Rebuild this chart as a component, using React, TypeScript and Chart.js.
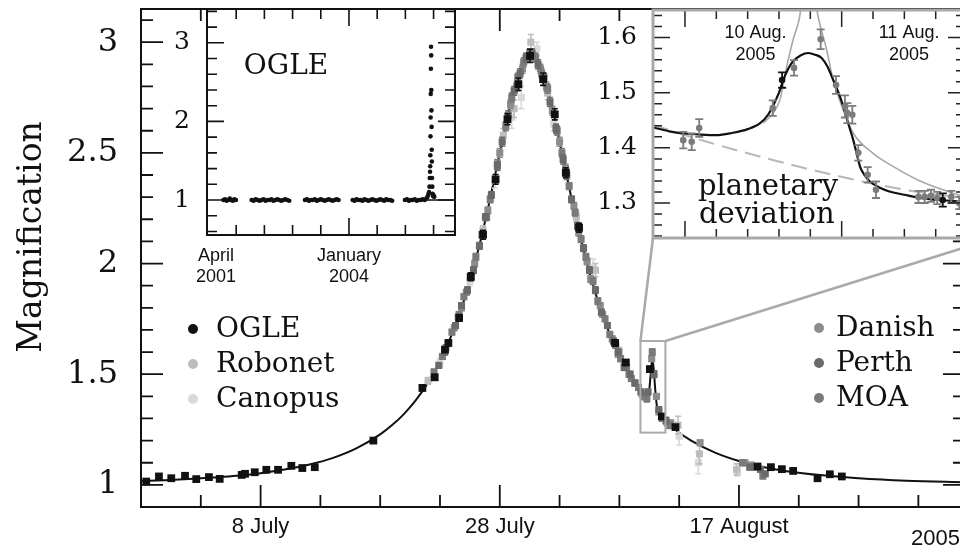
import React, { useEffect, useRef } from "react";
import { Chart, registerables } from "chart.js";
Chart.register(...registerables);

const SERIF = "'DejaVu Serif', serif";
const SANS = "'Liberation Sans', Arial, sans-serif";
const INK = "#111";

// ---------------- main panel: axes ----------------
const mainXTickValues = [8, 28, 48];
const mainXTickLabels = ["8 July", "28 July", "17 August"];
const mainYTickValues = [1, 1.5, 2, 2.5, 3];
const mainYTickLabels = ["1", "1.5", "2", "2.5", "3"];

// model light curve (days since 0 July 2005, magnification)
const modelT = [-2, 0, 2, 4, 6, 8, 10, 12, 14, 16, 18, 19, 20, 21, 22, 23, 24, 25, 26, 27, 28, 29, 30, 30.6, 31, 32, 33, 34, 35, 36, 37, 38, 39, 39.5, 40, 40.3, 40.5, 40.62, 40.74, 40.86, 41.0, 41.15, 41.4, 41.8, 42.7, 44, 46, 48, 50, 52, 55, 58, 62, 66.9];
const modelA = [1.017, 1.021, 1.026, 1.033, 1.041, 1.053, 1.069, 1.091, 1.121, 1.165, 1.228, 1.270, 1.321, 1.384, 1.462, 1.559, 1.681, 1.832, 2.019, 2.245, 2.499, 2.747, 2.917, 2.948, 2.934, 2.790, 2.551, 2.294, 2.061, 1.866, 1.708, 1.581, 1.480, 1.437, 1.398, 1.385, 1.43, 1.50, 1.565, 1.53, 1.43, 1.35, 1.315, 1.289, 1.248, 1.200, 1.146, 1.108, 1.081, 1.062, 1.043, 1.030, 1.019, 1.012];

// OGLE
const ogleT = [-1.56, -0.5, 0.53, 1.68, 2.62, 3.68, 4.58, 6.42, 6.7, 7.51, 8.48, 9.46, 10.57, 11.49, 12.53, 17.43, 21.53, 22.56, 23.42, 23.7, 24.6, 25.57, 26.6, 27.65, 28.64, 29.56, 30.53, 31.62, 32.6, 33.52, 34.63, 37.64, 38.54, 40.55, 41.55, 42.69, 49.55, 50.67, 51.59, 52.53, 54.57, 55.6, 56.6];
const ogleA = [1.015, 1.038, 1.030, 1.041, 1.026, 1.035, 1.027, 1.045, 1.050, 1.057, 1.068, 1.068, 1.086, 1.076, 1.080, 1.200, 1.438, 1.486, 1.611, 1.641, 1.754, 1.940, 2.130, 2.380, 2.652, 2.810, 2.938, 2.833, 2.674, 2.410, 2.162, 1.641, 1.553, 1.523, 1.309, 1.261, 1.083, 1.080, 1.071, 1.063, 1.030, 1.048, 1.038];
const ogleErr = [0.008, 0.008, 0.008, 0.008, 0.008, 0.008, 0.008, 0.008, 0.008, 0.008, 0.008, 0.008, 0.008, 0.008, 0.008, 0.01, 0.012, 0.012, 0.012, 0.012, 0.015, 0.018, 0.02, 0.022, 0.025, 0.028, 0.03, 0.028, 0.025, 0.022, 0.02, 0.014, 0.012, 0.012, 0.01, 0.01, 0.008, 0.008, 0.008, 0.008, 0.008, 0.008, 0.008];

// Perth
const perthT = [22.9, 23.4, 24.3, 24.8, 25.3, 25.8, 26.3, 26.8, 27.3, 27.8, 28.2, 28.7, 29.2, 29.7, 30.2, 30.7, 31.2, 31.7, 32.2, 32.7, 33.3, 33.6, 34.0, 34.5, 35.0, 35.5, 36.0, 36.5, 37.0, 37.5, 37.9, 38.4, 38.9, 39.3, 39.8, 40.4, 40.9, 41.3, 41.9, 48.9, 49.8, 50.2];
const perthA = [1.54, 1.60, 1.72, 1.81, 1.88, 1.97, 2.08, 2.21, 2.31, 2.44, 2.55, 2.67, 2.78, 2.86, 2.93, 2.95, 2.90, 2.84, 2.73, 2.61, 2.47, 2.40, 2.29, 2.17, 2.07, 1.97, 1.88, 1.78, 1.72, 1.65, 1.60, 1.53, 1.50, 1.46, 1.42, 1.42, 1.50, 1.34, 1.29, 1.08, 1.07, 1.05];
const perthErr = [0.012, 0.012, 0.012, 0.012, 0.015, 0.015, 0.015, 0.015, 0.015, 0.02, 0.02, 0.02, 0.02, 0.02, 0.02, 0.02, 0.02, 0.02, 0.02, 0.02, 0.02, 0.02, 0.015, 0.015, 0.015, 0.015, 0.015, 0.012, 0.012, 0.012, 0.012, 0.012, 0.012, 0.012, 0.012, 0.012, 0.015, 0.012, 0.015, 0.012, 0.01, 0.01];

// MOA
const moaT = [22.5, 23.2, 24.0, 24.6, 25.0, 25.6, 26.0, 26.9, 27.2, 27.8, 28.5, 29.0, 29.5, 30.0, 30.5, 31.0, 31.5, 32.0, 32.8, 33.2, 33.8, 34.3, 34.8, 35.2, 35.8, 36.2, 36.8, 37.2, 37.7, 38.1, 38.6, 39.0, 39.6, 40.1, 40.3, 40.75, 41.6, 42.2, 48.3, 49.3, 50.0];
const moaA = [1.51, 1.58, 1.69, 1.77, 1.85, 1.94, 2.03, 2.21, 2.29, 2.45, 2.62, 2.75, 2.84, 2.91, 2.95, 2.93, 2.86, 2.79, 2.60, 2.50, 2.35, 2.23, 2.11, 2.03, 1.92, 1.83, 1.75, 1.68, 1.63, 1.57, 1.53, 1.48, 1.44, 1.40, 1.39, 1.60, 1.30, 1.27, 1.10, 1.08, 1.04];
const moaErr = [0.012, 0.012, 0.012, 0.012, 0.012, 0.015, 0.015, 0.015, 0.015, 0.02, 0.02, 0.02, 0.02, 0.02, 0.02, 0.02, 0.02, 0.02, 0.02, 0.02, 0.015, 0.015, 0.015, 0.015, 0.015, 0.015, 0.012, 0.012, 0.012, 0.012, 0.012, 0.012, 0.012, 0.015, 0.015, 0.015, 0.012, 0.015, 0.012, 0.01, 0.012];

// Danish
const danishT = [23.5, 24.2, 24.8, 25.2, 25.9, 26.5, 27.0, 28.0, 28.9, 29.4, 29.9, 30.3, 30.9, 31.4, 31.9, 32.4, 33.0, 33.5, 34.2, 34.6, 35.3, 35.6, 36.4, 36.6, 37.4, 37.9, 38.4, 38.8, 39.3, 39.9, 40.7, 41.1, 41.3, 42.0, 42.3, 44.75, 48.5, 49.0];
const danishA = [1.62, 1.71, 1.80, 1.87, 2.00, 2.13, 2.24, 2.50, 2.72, 2.80, 2.88, 2.93, 2.93, 2.88, 2.80, 2.69, 2.55, 2.43, 2.26, 2.14, 2.01, 1.93, 1.81, 1.77, 1.66, 1.59, 1.55, 1.50, 1.46, 1.41, 1.57, 1.40, 1.33, 1.28, 1.28, 1.19, 1.10, 1.09];
const danishErr = [0.012, 0.012, 0.012, 0.012, 0.015, 0.015, 0.015, 0.02, 0.02, 0.02, 0.02, 0.02, 0.02, 0.02, 0.02, 0.02, 0.02, 0.02, 0.015, 0.015, 0.015, 0.015, 0.012, 0.012, 0.012, 0.012, 0.01, 0.01, 0.01, 0.01, 0.012, 0.012, 0.012, 0.012, 0.012, 0.012, 0.012, 0.01];

// Robonet
const robonetT = [22.0, 24.5, 26.6, 28.3, 29.2, 30.6, 32.0, 34.4, 36.0, 38.0, 42.9, 44.7, 47.8];
const robonetA = [1.47, 1.76, 2.15, 2.58, 2.70, 3.00, 2.77, 2.21, 1.97, 1.60, 1.27, 1.14, 1.07];
const robonetErr = [0.015, 0.015, 0.02, 0.03, 0.04, 0.035, 0.03, 0.02, 0.03, 0.02, 0.04, 0.045, 0.025];

// Canopus
const canopusT = [23.0, 25.5, 27.6, 29.0, 29.8, 31.1, 32.5, 35.8, 43.0, 44.6, 47.9];
const canopusA = [1.55, 1.92, 2.37, 2.66, 2.75, 2.97, 2.63, 1.98, 1.22, 1.10, 1.06];
const canopusErr = [0.02, 0.02, 0.03, 0.05, 0.05, 0.03, 0.03, 0.04, 0.04, 0.05, 0.02];

// zoom box (main data coords)
const zoomBoxT = [39.76, 41.85];
const zoomBoxA = [1.236, 1.65];

// legends
const legendLeftNames = ["OGLE", "Robonet", "Canopus"];
const legendLeftColors = ["#111111", "#bdbdbd", "#d9d9d9"];
const legendRightNames = ["Danish", "Perth", "MOA"];
const legendRightColors = ["#8c8c8c", "#6a6a6a", "#7a7a7a"];

// ---------------- inset 1: OGLE long-term (days since 1 Jan 2004) ----------------
const inset1XTickValues = [-943, 0];
const inset1XTickLabels = [["April", "2001"], ["January", "2004"]];
const inset1YTickValues = [1, 2, 3];
const inset1YTickLabels = ["1", "2", "3"];

const season2001T = [-890, -879, -868, -857, -846, -835, -824, -813, -802];
const season2001A = [1.00, 1.01, 0.99, 1.00, 1.02, 1.00, 0.99, 1.01, 1.00];
const season2002T = [-690, -676, -662, -648, -634, -620, -606, -592, -578, -564, -550, -536, -522, -508, -494, -480, -466, -452, -438, -424];
const season2002A = [1.00, 0.99, 1.01, 1.00, 0.99, 1.00, 1.01, 0.99, 1.00, 1.00, 1.01, 0.99, 1.00, 1.01, 1.00, 0.99, 1.00, 1.01, 1.00, 0.99];
const season2003T = [-312, -298, -284, -270, -256, -242, -228, -214, -200, -186, -172, -158, -144, -130, -116, -102, -88, -74];
const season2003A = [1.00, 1.01, 0.99, 1.00, 1.00, 1.01, 0.99, 1.00, 1.01, 1.00, 0.99, 1.00, 1.01, 1.00, 0.99, 1.00, 1.01, 1.00];
const season2004T = [26, 40, 54, 68, 82, 96, 110, 124, 138, 152, 166, 180, 194, 208, 222, 236, 250, 264, 278, 292, 306];
const season2004A = [1.00, 0.99, 1.01, 1.00, 1.00, 0.99, 1.01, 1.00, 0.99, 1.00, 1.01, 1.00, 0.99, 1.00, 1.01, 1.00, 0.99, 1.01, 1.00, 1.00, 0.99];
const season2005T = [397, 411, 425, 439, 453, 467, 481, 495, 509, 523, 537, 549, 557, 563, 568, 571, 573, 575, 576, 577, 578, 579, 580, 581, 582, 583, 584, 585, 586, 587, 588, 589, 591, 593, 596, 600, 605];
const season2005A = [1.00, 1.01, 0.99, 1.00, 1.00, 1.01, 0.99, 1.00, 1.00, 1.01, 1.00, 1.02, 1.04, 1.07, 1.10, 1.17, 1.28, 1.36, 1.43, 1.57, 1.81, 2.05, 2.35, 2.67, 2.95, 2.84, 2.40, 2.14, 1.93, 1.64, 1.49, 1.28, 1.17, 1.08, 1.05, 1.06, 1.04];
const ogleBaseT = [539, 752];
const ogleBaseA = [1.0, 1.0];

// ---------------- inset 2: planetary deviation (days of August 2005) ----------------
const inset2YTickValues = [1.3, 1.4, 1.5, 1.6];
const inset2YTickLabels = ["1.3", "1.4", "1.5", "1.6"];
const inset2DateLabelT = [10.45, 11.43];
const inset2DateLabels = ["10 Aug.", "11 Aug."];

const devModelT = [9.796, 9.9, 10.0, 10.1, 10.2, 10.3, 10.4, 10.48, 10.53, 10.56, 10.6, 10.627, 10.66, 10.69, 10.74, 10.787, 10.83, 10.872, 10.91, 10.946, 10.98, 11.01, 11.04, 11.074, 11.1, 11.117, 11.15, 11.18, 11.24, 11.31, 11.4, 11.52, 11.65, 11.79];
const devModelA = [1.437, 1.430, 1.426, 1.424, 1.423, 1.427, 1.434, 1.445, 1.460, 1.475, 1.500, 1.523, 1.544, 1.557, 1.568, 1.572, 1.569, 1.563, 1.547, 1.523, 1.500, 1.475, 1.446, 1.414, 1.385, 1.366, 1.349, 1.339, 1.328, 1.3205, 1.315, 1.3085, 1.305, 1.302];
const singleLensT = [9.796, 10.14, 10.56, 10.99, 11.41, 11.79];
const singleLensA = [1.4415, 1.411, 1.378, 1.348, 1.3236, 1.3085];
const altModelT = [10.5, 10.56, 10.606, 10.649, 10.69, 10.73, 10.79, 10.845, 10.904, 10.946, 11.01, 11.074, 11.2, 11.33, 11.5, 11.79];
const altModelA = [1.445, 1.462, 1.487, 1.547, 1.596, 1.635, 1.75, 1.645, 1.578, 1.523, 1.469, 1.4265, 1.39, 1.366, 1.34, 1.31];
const devGrayT = [9.989, 10.043, 10.091, 10.56, 10.696, 10.866, 10.964, 11.021, 11.036, 11.068, 11.106, 11.166, 11.219, 11.49, 11.53, 11.57, 11.61, 11.70, 11.75];
const devGrayA = [1.414, 1.411, 1.436, 1.472, 1.545, 1.597, 1.514, 1.475, 1.463, 1.460, 1.391, 1.351, 1.324, 1.311, 1.311, 1.313, 1.309, 1.311, 1.300];
const devGrayErr = [0.015, 0.015, 0.016, 0.014, 0.014, 0.018, 0.016, 0.02, 0.018, 0.016, 0.014, 0.014, 0.015, 0.011, 0.011, 0.011, 0.011, 0.011, 0.011];
const devBlackT = [10.62, 11.645];
const devBlackA = [1.523, 1.3055];
const devBlackErr = [0.014, 0.012];

// ---------------- helpers ----------------
const pts = (xs: number[], ys: number[]) => xs.map((x, i) => ({ x, y: ys[i] }));

function tickList(start: number, step: number, count: number, isMajor: (v: number, k: number) => boolean) {
  const out: { v: number; major: boolean }[] = [];
  for (let k = 0; k < count; k++) {
    const v = Math.round((start + step * k) * 1000) / 1000;
    out.push({ v, major: isMajor(v, k) });
  }
  return out;
}

function drawFrame(chart: any, xt: any[], yt: any[], o: any) {
  const { ctx, chartArea: ca } = chart;
  const x = chart.scales.x, y = chart.scales.y;
  ctx.save();
  ctx.strokeStyle = o.tickColor;
  ctx.lineWidth = o.tickWidth;
  ctx.beginPath();
  for (const t of xt) {
    const px = x.getPixelForValue(t.v);
    const L = t.major ? o.major : o.minor;
    ctx.moveTo(px, ca.bottom); ctx.lineTo(px, ca.bottom - L);
    ctx.moveTo(px, ca.top); ctx.lineTo(px, ca.top + L);
  }
  for (const t of yt) {
    const py = y.getPixelForValue(t.v);
    const L = t.major ? o.major : o.minor;
    ctx.moveTo(ca.left, py); ctx.lineTo(ca.left + L, py);
    ctx.moveTo(ca.right, py); ctx.lineTo(ca.right - L, py);
  }
  ctx.stroke();
  ctx.strokeStyle = o.frameColor;
  ctx.lineWidth = o.frameWidth;
  ctx.strokeRect(ca.left, ca.top, ca.right - ca.left, ca.bottom - ca.top);
  ctx.restore();
}

const errorBarPlugin = {
  id: "errbars",
  beforeDatasetDraw(chart: any, args: any) {
    const ds: any = chart.data.datasets[args.index];
    if (!ds.errors) return;
    const ys = chart.scales.y;
    const ctx = chart.ctx;
    const ca = chart.chartArea;
    ctx.save();
    ctx.beginPath();
    ctx.rect(ca.left, ca.top, ca.right - ca.left, ca.bottom - ca.top);
    ctx.clip();
    ctx.strokeStyle = ds.backgroundColor;
    ctx.lineWidth = ds.errorWidth || 1.6;
    const cap = ds.capWidth ?? 3;
    args.meta.data.forEach((el: any, j: number) => {
      const p = ds.data[j];
      const e = ds.errors[j];
      const y1 = ys.getPixelForValue(p.y + e);
      const y2 = ys.getPixelForValue(p.y - e);
      ctx.beginPath();
      ctx.moveTo(el.x, y1); ctx.lineTo(el.x, y2);
      ctx.moveTo(el.x - cap, y1); ctx.lineTo(el.x + cap, y1);
      ctx.moveTo(el.x - cap, y2); ctx.lineTo(el.x + cap, y2);
      ctx.stroke();
    });
    ctx.restore();
  },
};

const whiteBg = {
  id: "whiteBg",
  beforeDraw(chart: any) {
    const { ctx, chartArea: ca } = chart;
    ctx.save();
    ctx.fillStyle = "#fff";
    ctx.fillRect(ca.left, ca.top, ca.right - ca.left, ca.bottom - ca.top);
    ctx.restore();
  },
};

function squares(t: number[], a: number[], e: number[], color: string, r: number) {
  return {
    data: pts(t, a),
    errors: e,
    backgroundColor: color,
    borderColor: color,
    pointStyle: "rect",
    pointRadius: r,
    pointBorderWidth: 0,
    capWidth: 3,
    errorWidth: 1.6,
  };
}

const noGrid = { display: false, drawTicks: false };

// fix the scale box size and remove Chart.js's automatic label overhang padding
const fixHeight = (h: number) => (s: any) => {
  s.height = h;
  s.paddingLeft = 0; s.paddingRight = 0; s.paddingTop = 0; s.paddingBottom = 0;
};
const fixWidth = (w: number) => (s: any) => {
  s.width = w;
  s.paddingLeft = 0; s.paddingRight = 0; s.paddingTop = 0; s.paddingBottom = 0;
};

// ---------------- inset 1 config ----------------
function makeInset1() {
  const xt = tickList(-800, 200, 8, (v) => v === 0);
  const yt = tickList(0.6, 0.2, 15, (v) => Math.abs(v - Math.round(v)) < 1e-6);
  return {
    type: "scatter",
    data: {
      datasets: [
        { data: pts(season2001T, season2001A), backgroundColor: INK, pointRadius: 2.3, pointBorderWidth: 0 },
        { data: pts(season2002T, season2002A), backgroundColor: INK, pointRadius: 2.3, pointBorderWidth: 0 },
        { data: pts(season2003T, season2003A), backgroundColor: INK, pointRadius: 2.3, pointBorderWidth: 0 },
        { data: pts(season2004T, season2004A), backgroundColor: INK, pointRadius: 2.3, pointBorderWidth: 0 },
        { data: pts(season2005T, season2005A), backgroundColor: INK, pointRadius: 2.3, pointBorderWidth: 0 },
        { data: pts(ogleBaseT, ogleBaseA), showLine: true, borderColor: INK, borderWidth: 1.5, pointRadius: 0 },
      ],
    },
    options: {
      responsive: false,
      animation: false,
      layout: { padding: { left: 0, top: 9, right: 15, bottom: 0 } },
      plugins: { legend: { display: false }, tooltip: { enabled: false } },
      scales: {
        x: {
          type: "linear", min: -1007, max: 752,
          grid: noGrid, border: { display: false },
          afterBuildTicks: (s: any) => { s.ticks = inset1XTickValues.map((v) => ({ value: v })); },
          afterFit: fixHeight(65),
          ticks: { autoSkip: false, maxRotation: 0, padding: 10, color: INK, font: { family: SANS, size: 18 },
            callback: (_v: any, i: number) => inset1XTickLabels[i] },
        },
        y: {
          type: "linear", min: 0.555, max: 3.43,
          grid: noGrid, border: { display: false },
          afterBuildTicks: (s: any) => { s.ticks = inset1YTickValues.map((v) => ({ value: v })); },
          afterFit: fixWidth(57),
          ticks: { autoSkip: false, padding: 17, color: INK, font: { family: SERIF, size: 25 },
            callback: (_v: any, i: number) => inset1YTickLabels[i] },
        },
      },
    },
    plugins: [whiteBg, {
      id: "inset1Decor",
      afterDraw(chart: any) {
        const { ctx, chartArea: ca } = chart;
        drawFrame(chart, xt, yt, { tickColor: INK, tickWidth: 1.6, major: 17, minor: 10, frameColor: INK, frameWidth: 2 });
        ctx.save();
        ctx.fillStyle = INK;
        ctx.font = `28px ${SERIF}`;
        ctx.textAlign = "center";
        ctx.textBaseline = "middle";
        ctx.fillText("OGLE", ca.left + 79, ca.top + 58);
        ctx.restore();
      },
    }],
  };
}

// ---------------- inset 2 config ----------------
function makeInset2() {
  const xt = tickList(10.0, 0.2, 9, (_v, k) => k === 0 || k === 5);
  const yt = tickList(1.24, 0.02, 21, (v) => Math.abs(v * 10 - Math.round(v * 10)) < 1e-6);
  return {
    type: "scatter",
    data: {
      datasets: [
        { data: pts(devBlackT, devBlackA), errors: devBlackErr, backgroundColor: INK, pointRadius: 3.3, pointBorderWidth: 0, capWidth: 4, errorWidth: 1.8 },
        { data: pts(devGrayT, devGrayA), errors: devGrayErr, backgroundColor: "#7c7c7c", pointRadius: 3.3, pointBorderWidth: 0, capWidth: 4, errorWidth: 1.8 },
        { data: pts(devModelT, devModelA), showLine: true, borderColor: INK, borderWidth: 2.2, pointRadius: 0, cubicInterpolationMode: "monotone" },
        { data: pts(altModelT, altModelA), showLine: true, borderColor: "#a8a8a8", borderWidth: 1.6, pointRadius: 0, cubicInterpolationMode: "monotone" },
        { data: pts(singleLensT, singleLensA), showLine: true, borderColor: "#b8b8b8", borderWidth: 2, borderDash: [16, 8], pointRadius: 0, cubicInterpolationMode: "monotone" },
      ],
    },
    options: {
      responsive: false,
      animation: false,
      layout: { padding: { left: 0, top: 10, right: 15, bottom: 0 } },
      plugins: { legend: { display: false }, tooltip: { enabled: false } },
      scales: {
        x: {
          type: "linear", min: 9.796, max: 11.787,
          grid: noGrid, border: { display: false },
          afterFit: fixHeight(22),
          ticks: { display: false },
        },
        y: {
          type: "linear", min: 1.2365, max: 1.65,
          grid: noGrid, border: { display: false },
          afterBuildTicks: (s: any) => { s.ticks = inset2YTickValues.map((v) => ({ value: v })); },
          afterFit: fixWidth(73),
          ticks: { autoSkip: false, padding: 16, color: INK, font: { family: SERIF, size: 25 },
            callback: (_v: any, i: number) => inset2YTickLabels[i] },
        },
      },
    },
    plugins: [whiteBg, errorBarPlugin, {
      id: "inset2Decor",
      afterDraw(chart: any) {
        const { ctx, chartArea: ca } = chart;
        drawFrame(chart, xt, yt, { tickColor: "#222", tickWidth: 1.5, major: 17, minor: 9, frameColor: "#a9a9a9", frameWidth: 3 });
        ctx.save();
        ctx.fillStyle = INK;
        ctx.font = `18px ${SANS}`;
        ctx.textAlign = "center";
        ctx.textBaseline = "middle";
        inset2DateLabels.forEach((lab, i) => {
          const px = chart.scales.x.getPixelForValue(inset2DateLabelT[i]);
          ctx.fillText(lab, px, ca.top + 23);
          ctx.fillText("2005", px, ca.top + 45);
        });
        ctx.font = `29px ${SERIF}`;
        ctx.textAlign = "left";
        ctx.textBaseline = "alphabetic";
        ctx.fillText("planetary", ca.left + 45, ca.top + 185);
        ctx.fillText("deviation", ca.left + 46, ca.top + 213);
        ctx.restore();
      },
    }],
  };
}

// ---------------- main config ----------------
function makeMain(inset2: any, inset2Left: number) {
  const xt = tickList(3, 5, 13, (v) => (v - 8) % 20 === 0);
  const yt = tickList(1.0, 0.1, 22, (_v, k) => k % 5 === 0);
  return {
    type: "scatter",
    data: {
      datasets: [
        squares(ogleT, ogleA, ogleErr, "#111111", 5.5),
        squares(perthT, perthA, perthErr, "#6a6a6a", 5),
        squares(moaT, moaA, moaErr, "#7a7a7a", 5),
        squares(danishT, danishA, danishErr, "#8c8c8c", 5),
        squares(robonetT, robonetA, robonetErr, "#bdbdbd", 5),
        squares(canopusT, canopusA, canopusErr, "#d9d9d9", 5),
        { data: pts(modelT, modelA), showLine: true, borderColor: INK, borderWidth: 2, pointRadius: 0, cubicInterpolationMode: "monotone" },
      ],
    },
    options: {
      responsive: false,
      animation: false,
      layout: { padding: { left: 0, top: 9, right: 20, bottom: 0 } },
      plugins: { legend: { display: false }, tooltip: { enabled: false } },
      scales: {
        x: {
          type: "linear", min: -2, max: 66.9,
          grid: noGrid, border: { display: false },
          afterBuildTicks: (s: any) => { s.ticks = mainXTickValues.map((v) => ({ value: v })); },
          afterFit: fixHeight(42),
          ticks: { autoSkip: false, maxRotation: 0, padding: 7, color: INK, font: { family: SANS, size: 22 },
            callback: (_v: any, i: number) => mainXTickLabels[i] },
        },
        y: {
          type: "linear", min: 0.9, max: 3.15,
          grid: noGrid, border: { display: false },
          afterBuildTicks: (s: any) => { s.ticks = mainYTickValues.map((v) => ({ value: v })); },
          afterFit: fixWidth(141),
          ticks: { autoSkip: false, padding: 23, color: INK, font: { family: SERIF, size: 32 },
            callback: (_v: any, i: number) => mainYTickLabels[i] },
        },
      },
    },
    plugins: [errorBarPlugin, {
      id: "mainDecor",
      afterDraw(chart: any) {
        const { ctx, chartArea: ca } = chart;
        const xs = chart.scales.x, ys = chart.scales.y;
        drawFrame(chart, xt, yt, { tickColor: INK, tickWidth: 1.8, major: 22, minor: 12, frameColor: INK, frameWidth: 2 });

        // zoom box and connectors
        const bx0 = xs.getPixelForValue(zoomBoxT[0]);
        const bx1 = xs.getPixelForValue(zoomBoxT[1]);
        const by0 = ys.getPixelForValue(zoomBoxA[1]);
        const by1 = ys.getPixelForValue(zoomBoxA[0]);
        ctx.save();
        ctx.strokeStyle = "#aaaaaa";
        ctx.lineWidth = 2;
        ctx.strokeRect(bx0, by0, bx1 - bx0, by1 - by0);
        const ia = inset2.chartArea;
        ctx.lineWidth = 2.5;
        ctx.beginPath();
        ctx.moveTo(bx0, by0);
        ctx.lineTo(inset2Left + ia.left, ia.bottom);
        ctx.moveTo(bx1, by0);
        ctx.lineTo(inset2Left + ia.right + 30, ia.bottom);
        ctx.stroke();
        ctx.restore();

        // legends
        ctx.save();
        ctx.font = `28px ${SERIF}`;
        ctx.textBaseline = "middle";
        ctx.textAlign = "left";
        legendLeftNames.forEach((n, i) => {
          const cy = 329 + i * 35;
          ctx.fillStyle = legendLeftColors[i];
          ctx.beginPath(); ctx.arc(ca.left + 52, cy, 5, 0, Math.PI * 2); ctx.fill();
          ctx.fillStyle = INK;
          ctx.fillText(n, ca.left + 75, cy + 1);
        });
        legendRightNames.forEach((n, i) => {
          const cy = 328 + i * 35;
          ctx.fillStyle = legendRightColors[i];
          ctx.beginPath(); ctx.arc(ca.left + 678, cy, 5, 0, Math.PI * 2); ctx.fill();
          ctx.fillStyle = INK;
          ctx.fillText(n, ca.left + 695, cy + 1);
        });

        // y title
        ctx.font = `33px ${SERIF}`;
        ctx.textAlign = "center";
        ctx.translate(32, 237);
        ctx.rotate(-Math.PI / 2);
        ctx.fillText("Magnification", 0, 0);
        ctx.restore();

        // year
        ctx.save();
        ctx.font = `22px ${SANS}`;
        ctx.fillStyle = INK;
        ctx.textAlign = "left";
        ctx.textBaseline = "middle";
        ctx.fillText("2005", 911, 539);
        ctx.restore();
      },
    }],
  };
}

export default function App() {
  const mainRef = useRef<HTMLCanvasElement>(null);
  const in1Ref = useRef<HTMLCanvasElement>(null);
  const in2Ref = useRef<HTMLCanvasElement>(null);
  const INSET1_LEFT = 150;
  const INSET2_LEFT = 580;

  useEffect(() => {
    const in1 = new Chart(in1Ref.current as any, makeInset1() as any);
    const in2 = new Chart(in2Ref.current as any, makeInset2() as any);
    const main = new Chart(mainRef.current as any, makeMain(in2, INSET2_LEFT) as any);
    return () => {
      main.destroy();
      in1.destroy();
      in2.destroy();
    };
  }, []);

  return (
    <div style={{ position: "fixed", left: 0, top: 0, width: 960, height: 549, overflow: "hidden", background: "#fff" }}>
      <canvas ref={mainRef} width={985} height={549} style={{ position: "absolute", left: 0, top: 0 }} />
      <canvas ref={in1Ref} width={320} height={300} style={{ position: "absolute", left: INSET1_LEFT, top: 0 }} />
      <canvas ref={in2Ref} width={400} height={260} style={{ position: "absolute", left: INSET2_LEFT, top: 0 }} />
    </div>
  );
}
